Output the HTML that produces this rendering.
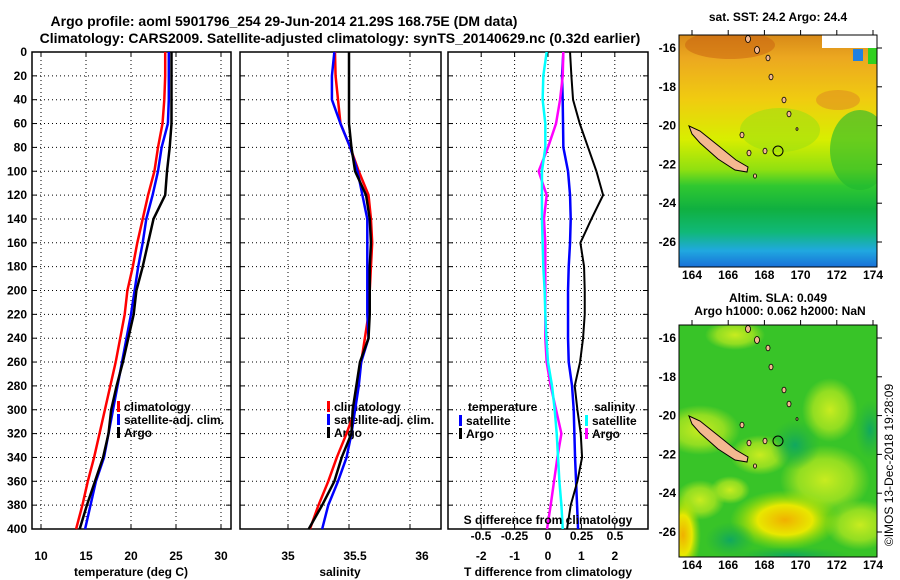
<!DOCTYPE html>
<html><head><meta charset="utf-8"><style>
html,body{margin:0;padding:0;background:#fff;}
svg{display:block;font-family:"Liberation Sans",Arial,sans-serif;font-weight:bold;}
</style></head><body>
<svg id="c" width="900" height="580" viewBox="0 0 900 580" xmlns="http://www.w3.org/2000/svg">
<defs>
<linearGradient id="sstg" x1="0" y1="0" x2="0" y2="1">
<stop offset="0" stop-color="#d88a18"/><stop offset="0.1" stop-color="#eca820"/><stop offset="0.28" stop-color="#f0cc10"/>
<stop offset="0.45" stop-color="#d8ee00"/><stop offset="0.58" stop-color="#90e010"/><stop offset="0.65" stop-color="#30c830"/><stop offset="0.75" stop-color="#10b040"/>
<stop offset="0.85" stop-color="#10b878"/><stop offset="0.93" stop-color="#20a8e0"/><stop offset="1" stop-color="#1870d8"/>
</linearGradient>
<radialGradient id="yb"><stop offset="0" stop-color="#f0b000"/><stop offset="0.5" stop-color="#e8e800"/><stop offset="1" stop-color="#a0e000" stop-opacity="0"/></radialGradient>
<radialGradient id="lb"><stop offset="0" stop-color="#c8ec20"/><stop offset="0.6" stop-color="#a8e420" stop-opacity="0.8"/><stop offset="1" stop-color="#a0e020" stop-opacity="0"/></radialGradient>
<radialGradient id="gb"><stop offset="0" stop-color="#10a860"/><stop offset="1" stop-color="#20b040" stop-opacity="0"/></radialGradient>
<radialGradient id="sg"><stop offset="0" stop-color="#20b838"/><stop offset="1" stop-color="#20b838" stop-opacity="0"/></radialGradient>
<clipPath id="m1c"><rect x="679" y="35" width="198" height="232"/></clipPath>
<clipPath id="m2c"><rect x="679" y="325" width="198" height="232"/></clipPath>
</defs>
<g id="root"></g>
</svg>
<script>
// ---- data (depth in dbar) ----
const depths = [0,20,40,60,80,100,120,140,160,180,200,220,240,260,280,300,320,340,360,380,400];
const tempClim = [23.8,23.8,23.7,23.5,23.0,22.6,21.9,21.3,20.7,20.2,19.6,19.3,18.8,18.3,17.7,17.1,16.5,15.9,15.2,14.6,13.9];
const tempSat  = [24.2,24.2,24.2,24.1,23.4,23.0,22.4,21.7,21.3,20.8,20.4,20.0,19.5,19.0,18.5,18.0,17.5,17.0,16.1,15.5,14.9];
const tempArgo = [24.5,24.5,24.5,24.5,24.3,24.0,23.8,22.5,21.9,21.3,20.6,20.3,19.7,19.1,18.4,17.8,17.5,16.9,16.0,15.1,14.3];
const salClim = [35.385,35.39,35.41,35.43,35.51,35.58,35.66,35.68,35.69,35.68,35.67,35.66,35.63,35.60,35.57,35.55,35.48,35.40,35.33,35.25,35.18];
const salSat  = [35.38,35.36,35.36,35.43,35.51,35.57,35.61,35.65,35.65,35.65,35.65,35.65,35.66,35.60,35.58,35.55,35.52,35.48,35.41,35.33,35.28];
const salArgo = [35.5,35.5,35.5,35.5,35.52,35.55,35.64,35.67,35.68,35.67,35.67,35.67,35.66,35.59,35.56,35.53,35.52,35.44,35.38,35.28,35.17];
const dTsat  = [0.46,0.42,0.44,0.45,0.46,0.60,0.66,0.68,0.66,0.62,0.60,0.60,0.60,0.62,0.72,0.77,0.79,0.81,0.84,0.87,0.90];
const dTargo = [0.66,0.70,0.75,0.95,1.20,1.45,1.65,1.30,0.97,1.08,1.10,1.10,1.05,0.96,0.80,0.88,0.98,1.02,0.88,0.68,0.57];
const dSargo = [0.114,0.11,0.09,0.06,0.0,-0.07,-0.01,-0.03,-0.02,-0.02,-0.02,-0.02,-0.02,-0.01,0.02,0.06,0.10,0.07,0.045,0.02,-0.007];
const dSsat  = [-0.01,-0.035,-0.04,-0.02,-0.02,-0.045,-0.045,-0.045,-0.04,-0.035,-0.025,-0.02,-0.012,0.0,0.03,0.05,0.065,0.075,0.085,0.10,0.11];
const depthTicks = [0,20,40,60,80,100,120,140,160,180,200,220,240,260,280,300,320,340,360,380,400];
const tempTicks = [10,15,20,25,30];
const salTicks = [35,35.5,36];
const dTTicks = [-2,-1,0,1,2];
const dSTicks = [-0.5,-0.25,0,0.25,0.5];
const latTicks = [-16,-18,-20,-22,-24,-26];
const lonTicks = [164,166,168,170,172,174];

const NS='http://www.w3.org/2000/svg';
const root=document.getElementById('root');
function el(tag,attrs,parent,txt){const e=document.createElementNS(NS,tag);for(const k in attrs)e.setAttribute(k,attrs[k]);if(txt!==undefined)e.textContent=txt;(parent||root).appendChild(e);return e;}
const y=d=>52+d*(477/400);
const xT=v=>41+(v-10)*9;
const xS=v=>288+(v-35)*122;
const xD=v=>548+v*33.4;
const xDS=v=>548+v*134;

function panel(x0,x1,name,vgrid){
  const g=el('g',{});
  
  
  depthTicks.forEach(d=>{ if(d>0&&d<400) el('line',{x1:x0,x2:x1,y1:y(d),y2:y(d),stroke:'#000','stroke-dasharray':'1,3','stroke-width':1},g);
    el('line',{x1:x0,x2:x0+5,y1:y(d),y2:y(d),stroke:'#000'},g); el('line',{x1:x1-5,x2:x1,y1:y(d),y2:y(d),stroke:'#000'},g);});
  vgrid.forEach(xv=>{el('line',{x1:xv,x2:xv,y1:52,y2:529,stroke:'#000','stroke-dasharray':'1,3'},g);
    el('line',{x1:xv,x2:xv,y1:524,y2:529,stroke:'#000'},g); el('line',{x1:xv,x2:xv,y1:52,y2:57,stroke:'#000'},g);});
  el('rect',{x:x0,y:52,width:x1-x0,height:477,fill:'none',stroke:'#000','stroke-width':1.5},g);
  return g;
}
function series(g,vals,fx,color,name,w){
  const p=el('polyline',{points:vals.map((v,i)=>fx(v)+','+y(depths[i])).join(' '),fill:'none',stroke:color,'stroke-width':w||2.5},g);
  
  
}
function txt(x,yy,s,opts,name){const t=el('text',Object.assign({x:x,y:yy,'font-size':12},opts||{}),root,s);
  
  return t;}

// titles
txt(284,26,'Argo profile: aoml 5901796_254 29-Jun-2014 21.29S 168.75E (DM data)',{'font-size':14,'text-anchor':'middle'},'title-line-1');
txt(340,43,'Climatology: CARS2009. Satellite-adjusted climatology: synTS_20140629.nc (0.32d earlier)',{'font-size':14,'text-anchor':'middle'},'title-line-2');

depthTicks.forEach(d=>{const t=txt(27,y(d)+4,String(d),{'text-anchor':'end'});});

// panel 1
const g1=panel(32,231,'temperature-panel',tempTicks.map(xT));
series(g1,tempClim,xT,'#f00','temp-climatology-line');
series(g1,tempSat,xT,'#00f','temp-satellite-line');
series(g1,tempArgo,xT,'#000','temp-argo-line');
tempTicks.forEach(v=>txt(xT(v),560,String(v),{'text-anchor':'middle'},'temp-tick-label'));
txt(131,576,'temperature (deg C)',{'text-anchor':'middle'},'temp-axis-title');
[['#f00','climatology'],['#00f','satellite-adj. clim.'],['#000','Argo']].forEach((l,i)=>{
  const r=el('rect',{x:117,y:401+i*13,width:3,height:11,fill:l[0]});
  txt(124,411+i*13,l[1],{},'legend-entry');
  const r2=el('rect',{x:327,y:401+i*13,width:3,height:11,fill:l[0]});
  txt(334,411+i*13,l[1],{},'legend-entry');
});

// panel 2
const g2=panel(240,441,'salinity-panel',salTicks.map(xS));
series(g2,salClim,xS,'#f00','sal-climatology-line');
series(g2,salSat,xS,'#00f','sal-satellite-line');
series(g2,salArgo,xS,'#000','sal-argo-line');
salTicks.forEach(v=>txt(xS(v)+(v-35)*12,560,String(v),{'text-anchor':'middle'},'sal-tick-label'));
txt(340,576,'salinity',{'text-anchor':'middle'},'sal-axis-title');

// panel 3
const g3=panel(448,648,'difference-panel',dTTicks.map(xD));
series(g3,dTsat,xD,'#00f','dT-satellite-line');
series(g3,dTargo,xD,'#000','dT-argo-line',2);
series(g3,dSargo,xDS,'#f0f','dS-argo-line');
series(g3,dSsat,xDS,'#0ff','dS-satellite-line');
dTTicks.forEach(v=>txt(xD(v),560,String(v),{'text-anchor':'middle'},'dT-tick-label'));
dSTicks.forEach(v=>txt(xDS(v),540,String(v),{'text-anchor':'middle'},'dS-tick-label'));
txt(548,524,'S difference from climatology',{'text-anchor':'middle'},'dS-axis-title');
txt(548,576,'T difference from climatology',{'text-anchor':'middle'},'dT-axis-title');
txt(468,411,'temperature',{},'legend-title');
txt(594,411,'salinity',{},'legend-title');
[['#00f','satellite',459,466],['#000','Argo',459,466],['#0ff','satellite',585,592],['#f0f','Argo',585,592]].forEach((l,i)=>{
  const r=el('rect',{x:l[2],y:415+(i%2)*13,width:3,height:11,fill:l[0]});
  txt(l[3],425+(i%2)*13,l[1],{},'legend-entry');
});

// maps
function mapAxes(top){
  const latY=v=>top+13+(-16-v)*19.4;
  const lonX=v=>692+(v-164)*18.1;
  latTicks.forEach(v=>{txt(676,latY(v)+4,String(v),{'text-anchor':'end'},'lat-tick-label');
    el('line',{x1:877,x2:882,y1:latY(v),y2:latY(v),stroke:'#000'});});
  lonTicks.forEach(v=>{txt(lonX(v),top+244,String(v),{'text-anchor':'middle'},'lon-tick-label');
    el('line',{x1:lonX(v),x2:lonX(v),y1:top-5,y2:top,stroke:'#000'});});
}
function islands(g,dy){
  el('polygon',{points:[[689,126],[700,131],[720,147],[736,160],[748,167],[747,172],[735,170],[718,159],[700,143],[692,134]].map(p=>p[0]+','+(p[1]+dy)).join(' '),fill:'#f4b890',stroke:'#000','stroke-width':1},g);
  [[748,39,2.5],[757,50,2.5],[768,58,2],[771,77,2],[784,100,2],[789,114,2],[742,135,2],[765,151,2],[749,153,2],[797,129,1],[755,176,1.5]].forEach(p=>
    el('ellipse',{cx:p[0],cy:p[1]+dy,rx:p[2],ry:p[2]*1.4,fill:'#f4b890',stroke:'#000','stroke-width':0.8},g));
  el('circle',{cx:778,cy:151+dy,r:5,fill:'none',stroke:'#000','stroke-width':1},g);
}
const m1=el('g',{'clip-path':'url(#m1c)'});


el('rect',{x:679,y:35,width:198,height:232,fill:'url(#sstg)'},m1);
el('ellipse',{cx:730,cy:45,rx:45,ry:14,fill:'#c86010',opacity:0.5},m1);
el('ellipse',{cx:838,cy:100,rx:22,ry:10,fill:'#e09020',opacity:0.6},m1);
el('ellipse',{cx:780,cy:130,rx:40,ry:22,fill:'#a0e010',opacity:0.6},m1);
el('ellipse',{cx:860,cy:150,rx:30,ry:40,fill:'#20b830',opacity:0.6},m1);
el('rect',{x:822,y:35,width:55,height:13,fill:'#fff'},m1);
el('rect',{x:868,y:48,width:9,height:16,fill:'#30d020'},m1);
el('rect',{x:853,y:49,width:10,height:12,fill:'#2080e0'},m1);
islands(m1,0);
el('rect',{x:679,y:35,width:198,height:232,fill:'none',stroke:'#000'});
mapAxes(35);
txt(778,21,'sat. SST: 24.2 Argo: 24.4',{'text-anchor':'middle'},'sst-map-title');

const m2=el('g',{'clip-path':'url(#m2c)'});


el('rect',{x:679,y:325,width:198,height:232,fill:'#38c428'},m2);
[[700,430,40,25],[735,335,30,15],[830,410,28,32],[825,480,45,35],[860,525,35,25],[730,490,20,14],[760,455,30,20],[700,500,25,20]].forEach(b=>el('ellipse',{cx:b[0],cy:b[1],rx:b[2],ry:b[3],fill:'url(#lb)'},m2));
[[785,520,55,30],[683,535,18,40]].forEach(b=>el('ellipse',{cx:b[0],cy:b[1],rx:b[2],ry:b[3],fill:'url(#yb)'},m2));
[[730,540,25,18],[795,445,25,25],[870,430,15,30],[790,555,60,8]].forEach(b=>el('ellipse',{cx:b[0],cy:b[1],rx:b[2],ry:b[3],fill:'url(#gb)'},m2));
islands(m2,290);
el('rect',{x:679,y:325,width:198,height:232,fill:'none',stroke:'#000'});
mapAxes(325);
txt(778,302,'Altim. SLA: 0.049',{'text-anchor':'middle'},'sla-map-title');
txt(780,315,'Argo h1000: 0.062 h2000: NaN',{'text-anchor':'middle'},'sla-map-subtitle');
txt(893,465,'©IMOS 13-Dec-2018 19:28:09',{'text-anchor':'middle','font-weight':'normal',transform:'rotate(-90 893 465)'},'imos-credit');
</script>
</body></html>
